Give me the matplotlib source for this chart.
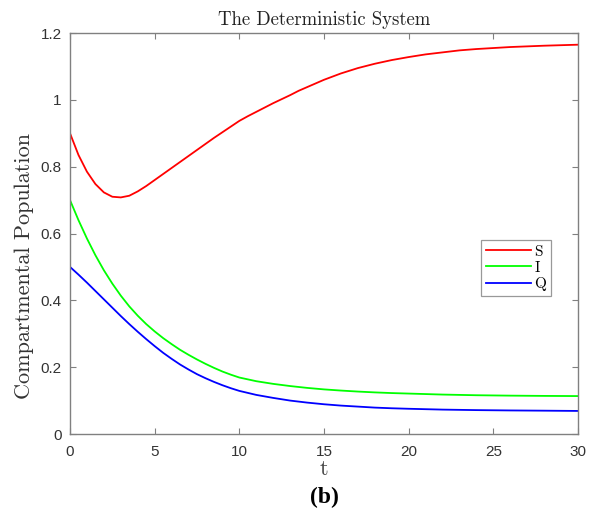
import matplotlib
matplotlib.use("Agg")
import matplotlib.pyplot as plt

# time grid and values
t_S = [0, 0.5, 1, 1.5, 2, 2.5, 3, 3.5, 4, 4.5, 5, 5.5, 6, 6.5, 7, 7.5, 8, 8.5, 9, 9.5, 10,
       10.5, 11, 11.5, 12, 12.5, 13, 13.5, 14, 14.5, 15, 16, 17, 18, 19, 20, 21, 22, 23, 24,
       25, 26, 27, 28, 29, 30]
S = [0.900, 0.835, 0.785, 0.748, 0.723, 0.710, 0.708, 0.713, 0.726, 0.742, 0.760, 0.778,
     0.796, 0.814, 0.832, 0.850, 0.868, 0.886, 0.903, 0.920, 0.937, 0.951, 0.964, 0.977,
     0.990, 1.002, 1.014, 1.027, 1.038, 1.049, 1.060, 1.079, 1.095, 1.108, 1.119, 1.128,
     1.136, 1.142, 1.148, 1.152, 1.155, 1.158, 1.160, 1.162, 1.1635, 1.165]

t_I = [0, 0.5, 1, 1.5, 2, 2.5, 3, 3.5, 4, 4.5, 5, 5.5, 6, 6.5, 7, 7.5, 8, 8.5, 9, 9.5, 10,
       11, 12, 13, 14, 15, 16, 17, 18, 19, 20, 22, 24, 26, 28, 30]
I = [0.700, 0.640, 0.585, 0.535, 0.490, 0.450, 0.414, 0.382, 0.354, 0.329, 0.307, 0.287,
     0.269, 0.252, 0.237, 0.223, 0.210, 0.198, 0.187, 0.1775, 0.169, 0.158, 0.150, 0.1435,
     0.138, 0.1335, 0.130, 0.127, 0.1245, 0.1225, 0.121, 0.118, 0.116, 0.1148, 0.114, 0.1135]

t_Q = [0, 0.5, 1, 1.5, 2, 2.5, 3, 3.5, 4, 4.5, 5, 5.5, 6, 6.5, 7, 7.5, 8, 8.5, 9, 9.5, 10,
       11, 12, 13, 14, 15, 16, 17, 18, 19, 20, 22, 24, 26, 28, 30]
Q = [0.500, 0.477, 0.453, 0.428, 0.403, 0.378, 0.353, 0.329, 0.306, 0.284, 0.263, 0.243,
     0.225, 0.208, 0.193, 0.179, 0.167, 0.156, 0.146, 0.137, 0.129, 0.117, 0.108, 0.100,
     0.094, 0.089, 0.085, 0.082, 0.079, 0.077, 0.0755, 0.073, 0.0715, 0.0705, 0.0698, 0.069]

series_labels = ["S", "I", "Q"]
x_ticks = [0, 5, 10, 15, 20, 25, 30]
y_ticks = [0, 0.2, 0.4, 0.6, 0.8, 1.0, 1.2]
y_tick_labels = ["0", "0.2", "0.4", "0.6", "0.8", "1", "1.2"]

fig = plt.figure(figsize=(5.96, 5.11), dpi=100)
ax = fig.add_axes([70/596, 1-434/511, 508/596, 401/511])

ax.plot(t_S, S, color=(1, 0, 0), lw=1.3, label=series_labels[0])
ax.plot(t_I, I, color=(0, 1, 0), lw=1.3, label=series_labels[1])
ax.plot(t_Q, Q, color=(0, 0, 1), lw=1.3, label=series_labels[2])

ax.set_xlim(0, 30)
ax.set_ylim(0, 1.2)
ax.set_xticks(x_ticks)
ax.set_xticklabels([str(v) for v in x_ticks])
ax.set_yticks(y_ticks)
ax.set_yticklabels(y_tick_labels)

gray = "#808080"
for sp in ax.spines.values():
    sp.set_color(gray)
    sp.set_linewidth(1.0)
ax.tick_params(direction="in", top=True, right=True, length=4, width=0.8, color=gray,
               labelsize=11, labelcolor="#333333")
ax.tick_params(axis="x", pad=8)
ax.tick_params(axis="y", pad=6)
for lbl in ax.get_xticklabels() + ax.get_yticklabels():
    lbl.set_family(["Liberation Sans", "DejaVu Sans"])

serif = ["cmr10", "DejaVu Serif"]
ax.set_title("The Deterministic System", family=serif, fontsize=13.5, color="#222222", pad=6)
ax.set_ylabel("Compartmental Population", family=serif, fontsize=16, color="#333333")
ax.yaxis.set_label_coords(-0.071, 0.42)
ax.set_xlabel("t", family=serif, fontsize=16, color="#444444", labelpad=0)

leg = ax.legend(loc="upper left", bbox_to_anchor=(0.809, 0.483), frameon=True, fancybox=False,
                prop={"family": "cmr10", "size": 11}, handlelength=3.0, handletextpad=0.2,
                borderpad=0.3, labelspacing=0.15, borderaxespad=0)
leg.get_frame().set_edgecolor(gray)
leg.get_frame().set_linewidth(0.9)

fig.text(324/596, 1-497/511, "(b)", family=["Liberation Serif", "DejaVu Serif"],
         fontweight="bold", fontsize=17, ha="center", va="center")

fig.savefig("out.png", dpi=100)
